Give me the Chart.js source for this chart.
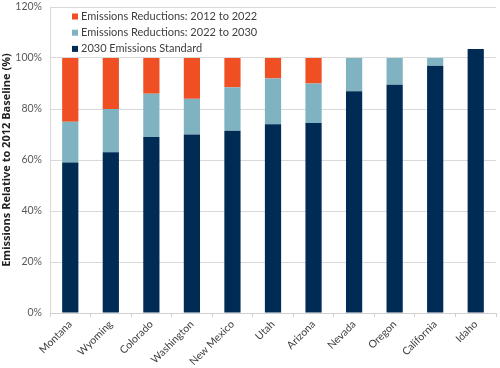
<!DOCTYPE html>
<html>
<head>
<meta charset="utf-8">
<script src="https://cdn.jsdelivr.net/npm/chart.js@4/dist/chart.umd.min.js"></script>
<style>
html,body{margin:0;padding:0;background:#fff;}
#wrap{width:500px;height:368px;position:relative;}
</style>
</head>
<body>
<div id="wrap"><canvas id="c" width="500" height="368"></canvas></div>
<script>
const categories = ["Montana","Wyoming","Colorado","Washington","New Mexico","Utah","Arizona","Nevada","Oregon","California","Idaho"];
const standard2030 = [59, 63, 69, 70, 71.5, 74, 74.5, 87, 89.5, 97, 103.5];
const reductions2022to2030 = [16, 17, 17, 14, 17, 18, 15.5, 13, 10.5, 3, 0];
const reductions2012to2022 = [25, 20, 14, 16, 11.5, 8, 10, 0, 0, 0, 0];
const seriesNames = ["2030 Emissions Standard","Emissions Reductions: 2022 to 2030","Emissions Reductions: 2012 to 2022"];
const seriesColors = ["#002b55","#7fb3c2","#f04e23"];
const yTicks = [0,20,40,60,80,100,120];

const FONT = "Lato, 'Open Sans', 'Liberation Sans', sans-serif";

const legendPlugin = {
  id: 'insideLegend',
  afterDraw(chart) {
    const ctx = chart.ctx;
    const ds = chart.data.datasets.slice().reverse();
    ctx.save();
    ctx.font = "11px " + FONT;
    ctx.textBaseline = 'middle';
    ctx.textAlign = 'left';
    ds.forEach((d, i) => {
      const y = 16.5 + i * 16.2;
      ctx.fillStyle = d.backgroundColor;
      ctx.fillRect(72, y - 3, 6, 6);
      ctx.fillStyle = '#404040';
      ctx.fillText(d.label, 81, y);
    });
    ctx.restore();
  }
};

new Chart(document.getElementById('c'), {
  type: 'bar',
  data: {
    labels: categories,
    datasets: [
      {label: seriesNames[0], data: standard2030, backgroundColor: seriesColors[0]},
      {label: seriesNames[1], data: reductions2022to2030, backgroundColor: seriesColors[1]},
      {label: seriesNames[2], data: reductions2012to2022, backgroundColor: seriesColors[2]}
    ]
  },
  options: {
    responsive: false,
    animation: false,
    devicePixelRatio: 1,
    layout: {padding: {top: 0, right: 4, left: 0, bottom: 0}},
    datasets: {bar: {barPercentage: 0.4, categoryPercentage: 1.0, borderWidth: 0}},
    plugins: {legend: {display: false}, tooltip: {enabled: false}},
    scales: {
      x: {
        stacked: true,
        grid: {display: true, drawOnChartArea: false, drawTicks: true, tickLength: 4, color: '#d0d0d0', offset: true},
        border: {display: true, color: '#d0d0d0'},
        ticks: {minRotation: 45, maxRotation: 45, autoSkip: false, color: '#404040', font: {family: FONT, size: 10.5}, padding: 1},
        afterFit(s) { s.height = 55; }
      },
      y: {
        stacked: true,
        min: 0, max: 120,
        afterBuildTicks(s) { s.ticks = yTicks.map(v => ({value: v})); },
        grid: {color: '#d9d9d9', drawTicks: false},
        border: {display: true, color: '#d9d9d9'},
        ticks: {color: '#595959', font: {family: FONT, size: 10.5}, padding: 8, callback: v => v + '%'},
        title: {display: true, text: 'Emissions Relative to 2012 Baseline (%)', color: '#222', font: {family: "'Open Sans', sans-serif", size: 11, weight: 'bold'}, padding: {top: 0, bottom: 2}},
        afterFit(s) { s.width = 50; s.paddingTop = 7; }
      }
    }
  },
  plugins: [legendPlugin]
});
</script>
</body>
</html>
